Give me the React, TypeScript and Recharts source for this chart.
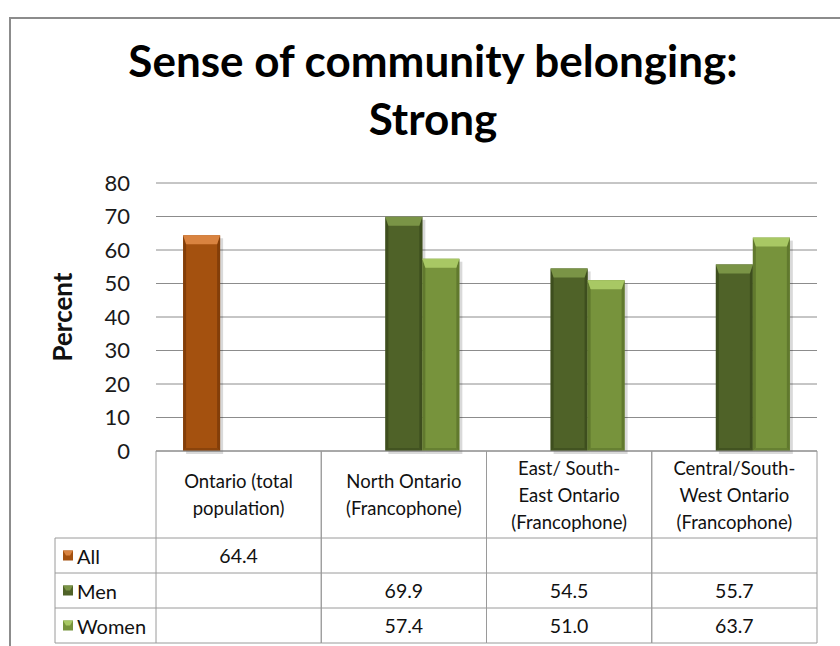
import React from 'react'
import { BarChart, Bar, XAxis, YAxis, CartesianGrid } from 'recharts'

// categories as shown in the table header (one entry per line)
const categoryLines = [
  ['Ontario (total', 'population)'],
  ['North Ontario', '(Francophone)'],
  ['East/ South-', 'East Ontario', '(Francophone)'],
  ['Central/South-', 'West Ontario', '(Francophone)'],
]
const categories = categoryLines.map((l) => l.join(' '))

const allValues = [64.4, null, null, null]
const menValues = [null, 69.9, 54.5, 55.7]
const womenValues = [null, 57.4, 51.0, 63.7]

const yTicks = [0, 10, 20, 30, 40, 50, 60, 70, 80]

const series = [
  { key: 'All', values: allValues, base: '#A4510F', dark: '#7A3A08', light: '#D98340' },
  { key: 'Men', values: menValues, base: '#4F6228', dark: '#3A4A1C', light: '#7A9446' },
  { key: 'Women', values: womenValues, base: '#77933C', dark: '#5B732B', light: '#A8C864' },
]

const data = categories.map((name, i) => ({
  name,
  All: allValues[i],
  Men: menValues[i],
  Women: womenValues[i],
}))

const FONT = 'Lato, "Open Sans", sans-serif'
const LINE = '#9a9a9a'
const HEADER_H = 87
const ROW_H = 35
const LEGEND_W = 101

function fmt(v: number | null) {
  return v == null ? '' : v.toFixed(1)
}

function BevelBar(props: any) {
  const { x, y, width, height, base, dark, light } = props
  if (!height || height <= 0) return null
  const b = Math.min(9, height / 2)
  const s = 3
  return (
    <g>
      <rect x={x + 3} y={y + 3} width={width} height={height} fill="#000" opacity={0.15} />
      <rect x={x} y={y} width={width} height={height} fill={base} />
      <polygon points={`${x},${y} ${x + s},${y + b} ${x + s},${y + height - s} ${x},${y + height}`} fill={dark} opacity={0.8} />
      <polygon points={`${x + width},${y} ${x + width - s},${y + b} ${x + width - s},${y + height - s} ${x + width},${y + height}`} fill={dark} opacity={0.8} />
      <polygon points={`${x},${y + height} ${x + s},${y + height - s} ${x + width - s},${y + height - s} ${x + width},${y + height}`} fill={dark} opacity={0.6} />
      <polygon points={`${x},${y} ${x + width},${y} ${x + width - s},${y + b} ${x + s},${y + b}`} fill={light} />
    </g>
  )
}

function TableTick(props: any) {
  const { x, y, payload, index, width, visibleTicksCount } = props
  const colW = width && visibleTicksCount ? width / visibleTicksCount : 165
  const left = x - colW / 2
  const right = x + colW / 2
  const bottom = y + HEADER_H + ROW_H * 3
  const idx = payload.index ?? index
  const lines = categoryLines[idx] || [String(payload.value)]
  const lh = 27
  const startY = y + HEADER_H / 2 - ((lines.length - 1) * lh) / 2
  return (
    <g fontFamily={FONT}>
      <line x1={left} y1={y} x2={left} y2={bottom} stroke={LINE} />
      <line x1={right} y1={y} x2={right} y2={bottom} stroke={LINE} />
      {[0, 1, 2, 3].map((r) => (
        <line key={r} x1={left} x2={right} y1={y + HEADER_H + ROW_H * r} y2={y + HEADER_H + ROW_H * r} stroke={LINE} />
      ))}
      {lines.map((t, i) => (
        <text key={i} x={x} y={startY + i * lh} textAnchor="middle" dominantBaseline="central" fontSize={18.5} fill="#111">
          {t}
        </text>
      ))}
      {series.map((s, r) => (
        <text key={s.key} x={x} y={y + HEADER_H + ROW_H * r + ROW_H / 2} textAnchor="middle" dominantBaseline="central" fontSize={19.5} fill="#111">
          {fmt(s.values[idx])}
        </text>
      ))}
      {idx === 0 && (
        <g>
          <line x1={left - LEGEND_W} x2={left - LEGEND_W} y1={y + HEADER_H} y2={bottom} stroke={LINE} />
          {[0, 1, 2, 3].map((r) => (
            <line key={r} x1={left - LEGEND_W} x2={left} y1={y + HEADER_H + ROW_H * r} y2={y + HEADER_H + ROW_H * r} stroke={LINE} />
          ))}
          {series.map((s, r) => {
            const cy = y + HEADER_H + ROW_H * r + ROW_H / 2
            const mx = left - LEGEND_W + 8
            return (
              <g key={s.key}>
                <rect x={mx} y={cy - 5} width={10} height={10} fill={s.base} />
                <polygon points={`${mx},${cy - 5} ${mx + 10},${cy - 5} ${mx + 7},${cy} ${mx + 3},${cy}`} fill={s.light} />
                <text x={mx + 14} y={cy} dominantBaseline="central" fontSize={20} fill="#111">
                  {s.key}
                </text>
              </g>
            )
          })}
        </g>
      )}
    </g>
  )
}

export default function App() {
  return (
    <div style={{ position: 'absolute', left: 0, top: 0, width: 840, height: 646, overflow: 'hidden', background: '#fff' }}>
      <div style={{ position: 'absolute', left: 9, top: 17, width: 900, height: 700, border: '2px solid #8c8c8c' }} />
      <div
        style={{
          position: 'absolute',
          left: 0,
          top: 31,
          width: 866,
          textAlign: 'center',
          fontFamily: FONT,
          fontWeight: 700,
          fontSize: 44,
          lineHeight: '58px',
          color: '#000',
        }}
      >
        Sense of community belonging:
        <br />
        Strong
      </div>
      <div
        style={{
          position: 'absolute',
          left: 62,
          top: 317,
          transform: 'translate(-50%, -50%) rotate(-90deg)',
          fontFamily: FONT,
          fontWeight: 700,
          fontSize: 26,
          color: '#111',
          whiteSpace: 'nowrap',
        }}
      >
        Percent
      </div>
      <div style={{ position: 'absolute', left: 0, top: 0 }}>
        <BarChart
          width={840}
          height={646}
          data={data}
          margin={{ top: 183, right: 23, left: 100, bottom: 3 }}
          barGap={0}
          barCategoryGap="16.4%"
        >
          <CartesianGrid vertical={false} stroke="#8c8c8c" />
          <XAxis
            dataKey="name"
            height={192}
            axisLine={{ stroke: '#8c8c8c' }}
            tickLine={false}
            tickSize={0}
            tickMargin={0}
            interval={0}
            tick={<TableTick />}
          />
          <YAxis
            width={56}
            domain={[0, 80]}
            ticks={yTicks}
            axisLine={false}
            tickLine={false}
            tickSize={0}
            tickMargin={26}
            tick={{ fontFamily: FONT, fontSize: 22, fill: '#1a1a1a' }}
          />
          {series.map((s) => (
            <Bar
              key={s.key}
              dataKey={s.key}
              isAnimationActive={false}
              fill={s.base}
              shape={(p: any) => <BevelBar {...p} base={s.base} dark={s.dark} light={s.light} />}
            />
          ))}
        </BarChart>
      </div>
    </div>
  )
}
